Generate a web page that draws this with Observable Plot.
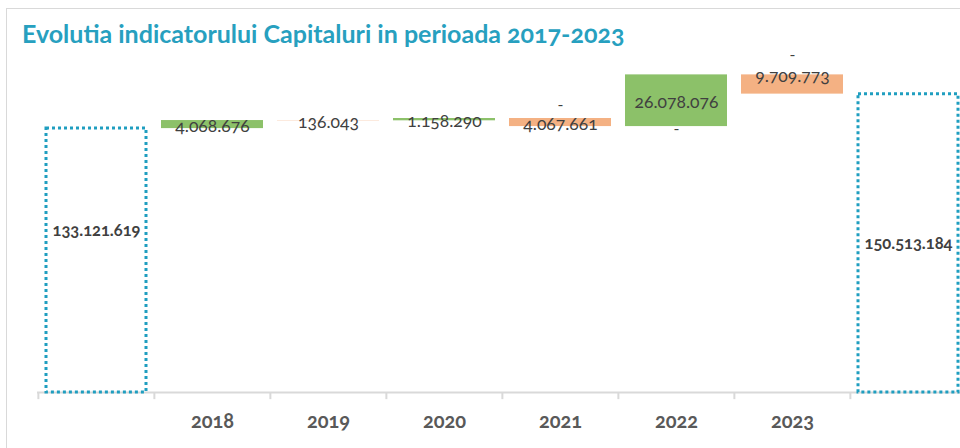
<!DOCTYPE html>
<html>
<head>
<meta charset="utf-8">
<script src="https://cdn.jsdelivr.net/npm/d3@7"></script>
<script src="https://cdn.jsdelivr.net/npm/@observablehq/plot@0.6"></script>
<style>
  html, body { margin: 0; padding: 0; background: #fff; overflow: hidden; }
  #wrap { position: relative; width: 960px; height: 448px; overflow: hidden; font-family: Lato, "Open Sans", sans-serif; font-variant-numeric: oldstyle-nums; }
  #frame { position: absolute; left: 6px; top: 8px; width: 1000px; height: 500px; border: 1.5px solid #d9d9d9; box-sizing: border-box; }
  #title { position: absolute; left: 22px; top: 18px; font-size: 25px; font-weight: 700; color: #27a0bf; white-space: nowrap; }
  #chart { position: absolute; left: 0; top: 0; }
  #chart svg { overflow: visible; font-variant-numeric: oldstyle-nums; }
</style>
</head>
<body>
<div id="wrap">
  <div id="frame"></div>
  <div id="title">Evolutia indicatorului Capitaluri in perioada 2017-2023</div>
  <div id="chart"></div>
</div>
<script>
const years = ["2018", "2019", "2020", "2021", "2022", "2023"];
const changes = [4068676, -136043, 1158290, -4067661, 26078076, -9709773];
const startKey = "Sold 2017";
const endKey = "Sold 2023";
const startValue = 133121619;
const endValue = 150513184;
const xKeys = [startKey, ...years, endKey];
const tickLabels = ["", "2018", "2019", "2020", "2021", "2022", "2023", ""];
const dashYears = ["2021", "2022", "2023"];

const green = "#8cc169";
const orange = "#f4b183";
const teal = "#1f9ec0";

const fmt = d3.formatLocale({thousands: ".", decimal: ",", grouping: [3], currency: ["", ""]}).format(",d");

let running = startValue;
const bars = years.map((year, i) => {
  const from = running;
  running += changes[i];
  return {year, change: changes[i], lo: Math.min(from, running), hi: Math.max(from, running)};
});
const totals = [
  {key: startKey, value: startValue},
  {key: endKey, value: endValue}
];

const labelMap = new Map(xKeys.map((k, i) => [k, tickLabels[i]]));
const step = (967 - 37) / xKeys.length;

const plot = Plot.plot({
  width: 960,
  height: 448,
  marginTop: 55,
  marginBottom: 56,
  marginLeft: 37,
  marginRight: 0,
  style: {fontFamily: "Lato, 'Open Sans', sans-serif", background: "transparent"},
  x: {domain: xKeys, range: [37, 967], padding: 0, axis: null},
  y: {domain: [0, 170000000], axis: null},
  marks: [
    Plot.ruleY([0], {stroke: "#d9d9d9", strokeWidth: 2}),
    Plot.ruleX(xKeys, {x: d => d, y1: 0, y2: -3600000, dx: -step / 2, stroke: "#d9d9d9", strokeWidth: 2}),
    Plot.ruleX([endKey], {x: d => d, y1: 0, y2: -3600000, dx: step / 2, stroke: "#d9d9d9", strokeWidth: 2}),
    Plot.axisX({domain: xKeys, tickSize: 0, tickPadding: 21, tickFormat: d => labelMap.get(d), fontSize: 20, fontWeight: 700, fill: "#595959", color: "#595959"}),
    Plot.rectY(bars, {x: "year", y1: "lo", y2: "hi", fill: d => d.change >= 0 ? green : orange, insetLeft: 7, insetRight: 7}),
    Plot.rectY(totals, {x: "key", y1: 0, y2: "value", fill: "none", stroke: teal, strokeWidth: 3, strokeDasharray: "3,3", insetLeft: 8, insetRight: 8}),
    Plot.text(bars, {filter: d => d.year !== "2023", x: "year", y: d => (d.lo + d.hi) / 2, text: d => fmt(Math.abs(d.change)), dy: 2, fontSize: 17.5, fill: "#404040"}),
    Plot.text(bars, {filter: d => d.year === "2023", x: "year", y: "hi", text: d => fmt(Math.abs(d.change)), dy: 2, fontSize: 17.5, fill: "#404040"}),
    Plot.text(bars, {filter: d => d.year === dashYears[0], x: "year", y: "hi", text: () => "-", dy: -14, fontSize: 16, fill: "#404040"}),
    Plot.text(bars, {filter: d => d.year === dashYears[1], x: "year", y: "lo", text: () => "-", dy: 2, fontSize: 16, fill: "#404040"}),
    Plot.text(bars, {filter: d => d.year === dashYears[2], x: "year", y: "hi", text: () => "-", dy: -20, fontSize: 16, fill: "#404040"}),
    Plot.text(totals, {filter: d => d.key === startKey, x: "key", y: d => d.value / 2, text: d => fmt(d.value), dy: -30, fontSize: 16.5, fontWeight: 700, fill: "#404040"}),
    Plot.text(totals, {filter: d => d.key === endKey, x: "key", y: d => d.value / 2, text: d => fmt(d.value), fontSize: 16.5, fontWeight: 700, fill: "#404040"})
  ]
});
document.getElementById("chart").appendChild(plot);
</script>
</body>
</html>
